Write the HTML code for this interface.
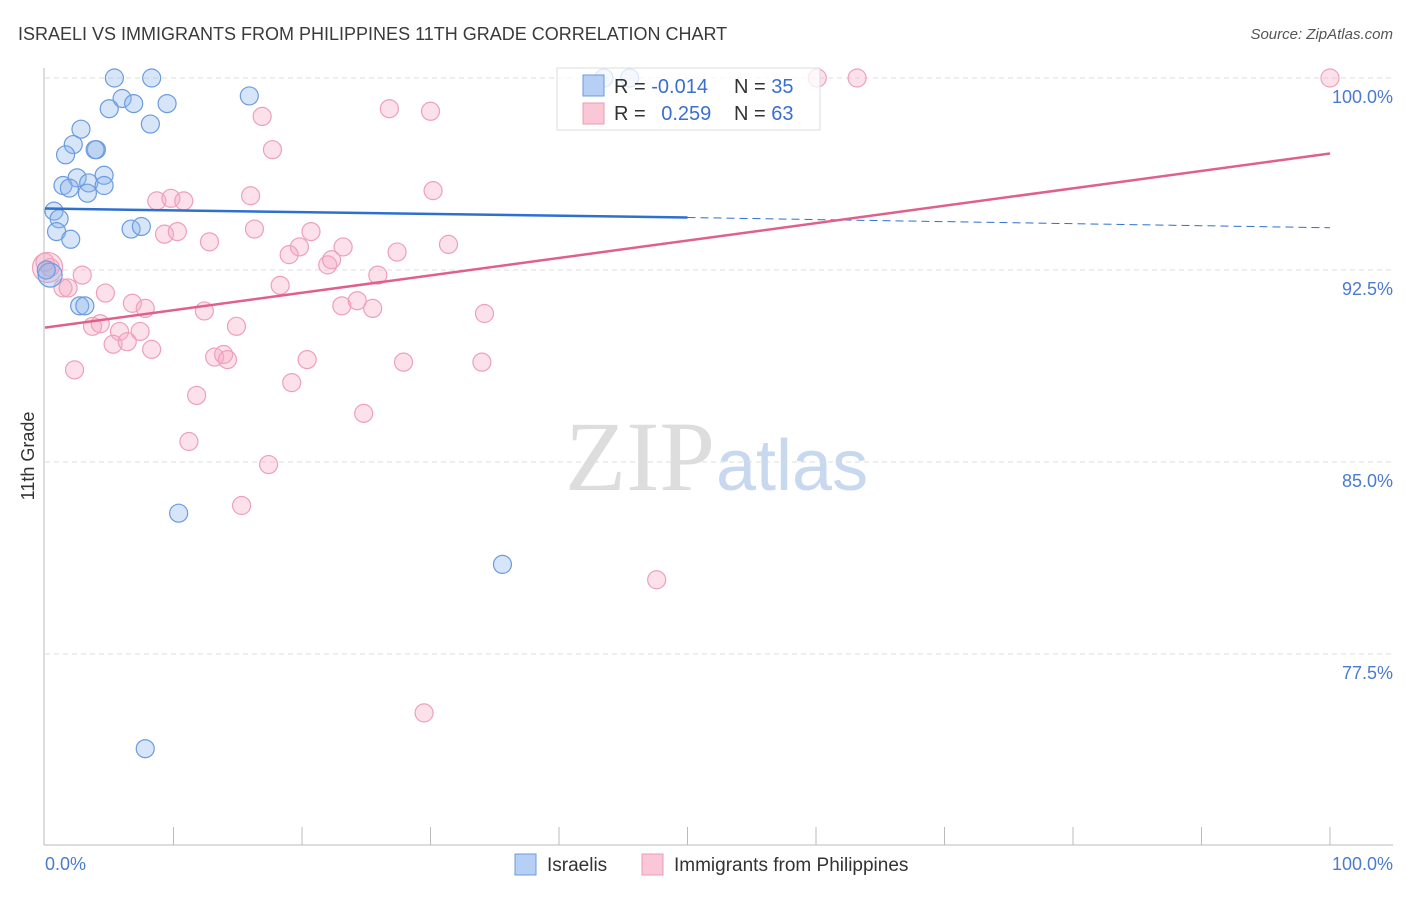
<!DOCTYPE html>
<html><head><meta charset="utf-8"><style>
body{margin:0;background:#fff;font-family:"Liberation Sans",sans-serif}
</style></head><body>
<svg id="chart" width="1406" height="892" xmlns="http://www.w3.org/2000/svg" font-family="Liberation Sans, sans-serif">
<text x="18" y="40" font-size="18" fill="#3a3a3a">ISRAELI VS IMMIGRANTS FROM PHILIPPINES 11TH GRADE CORRELATION CHART</text>
<text x="1393" y="39" font-size="15" fill="#555" text-anchor="end" font-style="italic">Source: ZipAtlas.com</text>
<text x="715" y="490" font-size="100" text-anchor="end" fill="#ddd" font-family="Liberation Serif, serif">ZIP</text>
<text x="716" y="490" font-size="72" fill="#c8d8ef">atlas</text>
<g id="grid"></g>
<g id="axes"></g>
<g id="pink"></g>
<g id="blue"></g>
<g id="lines"></g>
<text transform="translate(34,456) rotate(-90)" font-size="18" fill="#333" text-anchor="middle">11th Grade</text>
<text x="45" y="870" font-size="18" fill="#4a7bd0">0.0%</text>
<text x="1393" y="870" font-size="18" fill="#4a7bd0" text-anchor="end">100.0%</text>
<g>
<rect x="557" y="68" width="263" height="62" fill="rgba(255,255,255,0.75)" stroke="#ddd"/>
<rect x="583" y="75" width="21" height="21" fill="#b5cff5" stroke="#6b9be0"/>
<rect x="583" y="103" width="21" height="21" fill="#f9c7d6" stroke="#ec9bb5"/>
<text x="614" y="93" font-size="20" fill="#333">R = <tspan fill="#3a6fd0">-0.014</tspan></text>
<text x="734" y="93" font-size="20" fill="#333">N = <tspan fill="#3a6fd0">35</tspan></text>
<text x="614" y="120" font-size="20" fill="#333">R = <tspan fill="#3a6fd0" dx="10">0.259</tspan></text>
<text x="734" y="120" font-size="20" fill="#333">N = <tspan fill="#3a6fd0">63</tspan></text>
</g>
<g>
<rect x="515" y="854" width="21" height="21" fill="#b5cff5" stroke="#6b9be0"/>
<text x="547" y="871" font-size="19" fill="#333">Israelis</text>
<rect x="642" y="854" width="21" height="21" fill="#f9c7d6" stroke="#ec9bb5"/>
<text x="674" y="871" font-size="19" fill="#333">Immigrants from Philippines</text>
</g>
</svg>
<script>
const yTicks=[100,92.5,85,77.5];
const blueX=[5.4,8.3,43.5,45.5,15.9,6,6.9,5,9.5,8.2,2.8,2.2,1.6,4,3.9,2.5,4.6,1.4,1.9,3.4,3.3,4.6,0.7,1.1,0.9,2,6.7,7.5,0.4,0.1,2.7,3.1,10.4,35.6,7.8];
const blueY=[100,100,100,100,99.3,99.2,99,98.8,99,98.2,98,97.4,97,97.2,97.2,96.1,96.2,95.8,95.7,95.9,95.5,95.8,94.8,94.5,94,93.7,94.1,94.2,92.3,92.5,91.1,91.1,83,81,73.8];
const pinkX=[60.1,63.2,100,26.8,30,16.9,17.7,30.2,16,8.7,9.8,10.8,9.3,10.3,12.8,16.3,20.7,19.8,19,23.2,27.4,31.4,22,22.3,25.9,18.3,2.9,0.4,0,1.4,1.8,4.7,6.8,7.8,12.4,14.9,23.1,24.3,25.5,34.2,3.7,4.3,5.8,7.4,5.3,6.4,8.3,13.2,13.9,14.2,20.4,27.9,34,2.3,19.2,11.8,24.8,11.2,17.4,15.3,47.6,29.5,0.2];
const pinkY=[100,100,100,98.8,98.7,98.5,97.2,95.6,95.4,95.2,95.3,95.2,93.9,94,93.6,94.1,94,93.4,93.1,93.4,93.2,93.5,92.7,92.9,92.3,91.9,92.3,92.6,92.8,91.8,91.8,91.6,91.2,91,90.9,90.3,91.1,91.3,91,90.8,90.3,90.4,90.1,90.1,89.6,89.7,89.4,89.1,89.2,89,89,88.9,88.9,88.6,88.1,87.6,86.9,85.8,84.9,83.3,80.4,75.2,92.6];
const X=v=>45+v/100*1285, Y=v=>78+(100-v)/7.5*192;
const ns='http://www.w3.org/2000/svg';
function mk(g,tag,a){const e=document.createElementNS(ns,tag);for(const k in a)e.setAttribute(k,a[k]);document.getElementById(g).appendChild(e);return e;}
yTicks.forEach(t=>{
 const l=mk('grid','line',{x1:45,x2:1393,y1:Y(t),y2:Y(t),stroke:'#ddd','stroke-dasharray':'5,4'});
 
 
 const tx=mk('grid','text',{x:1393,y:Y(t)+25,'font-size':18,fill:'#4a7bd0','text-anchor':'end'});
 tx.textContent=t.toFixed(1)+'%';
 
 
});
let a=mk('axes','line',{x1:44,x2:44,y1:68,y2:845,stroke:'#bbb'});


a=mk('axes','line',{x1:44,x2:1393,y1:845,y2:845,stroke:'#bbb'});


for(let i=1;i<=10;i++){const t=mk('axes','line',{x1:X(i*10),x2:X(i*10),y1:827,y2:845,stroke:'#bbb'});
 
 }
pinkX.forEach((x,i)=>{const c=mk('pink','circle',{cx:X(x),cy:Y(pinkY[i]),r:i==pinkX.length-1?15:9,fill:'rgba(246,170,195,0.35)',stroke:'#eea0b8','stroke-width':1.2});
 
 });
blueX.forEach((x,i)=>{const c=mk('blue','circle',{cx:X(x),cy:Y(blueY[i]),r:(i==28)?12:9,fill:'rgba(140,180,235,0.35)',stroke:'#6b9be0','stroke-width':1.2});
 
 });
let t=mk('lines','line',{x1:X(0),y1:Y(94.9),x2:X(50),y2:Y(94.55),stroke:'#2f6fd0','stroke-width':2.5});


t=mk('lines','line',{x1:X(50),y1:Y(94.55),x2:X(100),y2:Y(94.15),stroke:'#2f6fd0','stroke-width':1,'stroke-dasharray':'8,5'});


t=mk('lines','line',{x1:X(0),y1:Y(90.25),x2:X(100),y2:Y(97.05),stroke:'#e0608a','stroke-width':2.5});


</script>
</body></html>
